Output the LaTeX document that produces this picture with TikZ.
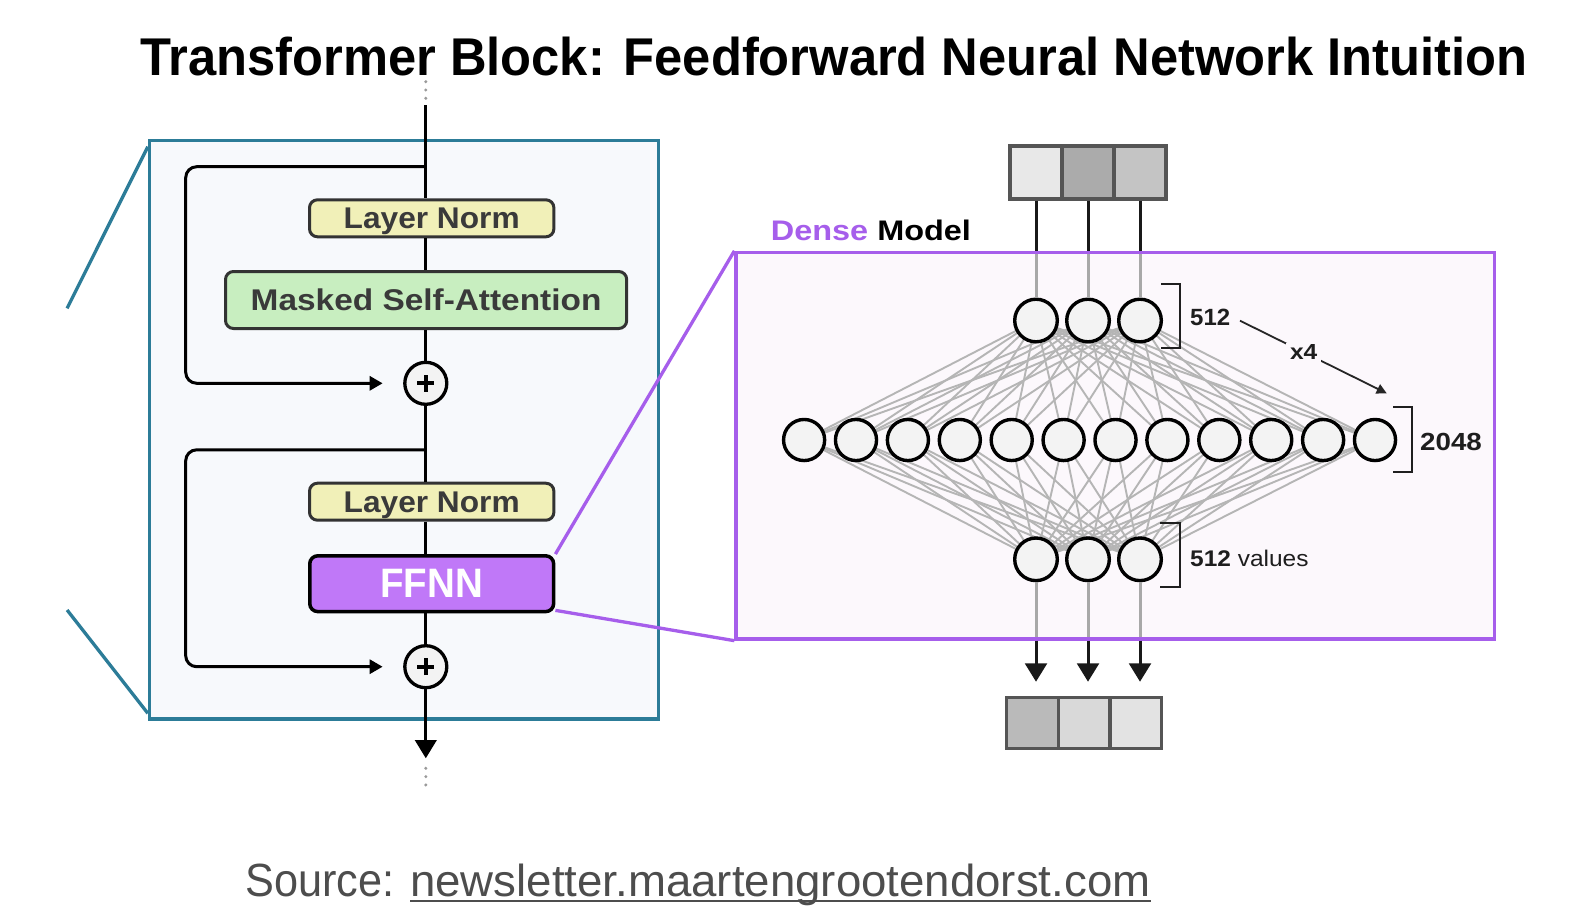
\documentclass[tikz,border=0pt]{standalone}
\usepackage{fontspec}
\setmainfont{Liberation Sans}
\usepackage{graphicx}
\usetikzlibrary{arrows.meta}
\definecolor{bluecol}{HTML}{2C7C98}
\definecolor{bluefill}{HTML}{F7F9FC}
\definecolor{densepurple}{HTML}{A65EEB}
\definecolor{densefill}{HTML}{FCF8FC}
\definecolor{lnyellow}{HTML}{F1F0B8}
\definecolor{msagreen}{HTML}{C8EEC0}
\definecolor{ffnnpurple}{HTML}{C078F8}
\definecolor{boxline}{HTML}{333333}
\definecolor{boxtext}{HTML}{3A3A3A}
\definecolor{neufill}{HTML}{F3F3F3}
\definecolor{edgegray}{HTML}{B5B5B5}
\definecolor{vgraycol}{HTML}{A8A8A8}
\definecolor{cellline}{HTML}{555555}
\definecolor{srcgray}{HTML}{4D4D4D}
\definecolor{dotgray}{HTML}{9A9A9A}
\definecolor{lbltext}{HTML}{1E1E1E}
\pgfdeclarelayer{back}
\pgfdeclarelayer{mid}
\pgfsetlayers{back,mid,main}
\newcommand{\fitbox}[3]{\resizebox{#1}{#2}{#3}}
\tikzset{
  lnbox/.style={draw=boxline, line width=3pt, rounded corners=8pt, fill=lnyellow, minimum width=244.4pt, minimum height=37pt, inner sep=0pt, text depth=0pt, text=boxtext},
  msabox/.style={draw=boxline, line width=3pt, rounded corners=8pt, fill=msagreen, minimum width=401.2pt, minimum height=57pt, inner sep=0pt, text depth=0pt, text=boxtext},
  ffnnbox/.style={draw=black, line width=3.5pt, rounded corners=8pt, fill=ffnnpurple, minimum width=243.9pt, minimum height=55.8pt, inner sep=0pt, text depth=0pt, text=white},
  flow/.style={draw=black, line width=3pt},
  plusnode/.style={circle, draw=black, line width=3.3pt, fill=neufill, minimum size=42pt, inner sep=0pt},
  plusbar/.style={draw=black, line width=4pt},
  neuron/.style={circle, draw=black, line width=3.4pt, fill=neufill, minimum size=#1, inner sep=0pt},
  neuron/.default=42.6pt,
  edge/.style={draw=edgegray, line width=1.9pt},
  vblack/.style={draw=black!90, line width=3pt},
  vgray/.style={draw=vgraycol, line width=3pt},
  cell/.style={draw=cellline, line width=3.3pt, inner sep=0pt, minimum width=52pt, minimum height=53pt},
  ocell/.style={draw=cellline, line width=3.3pt, inner sep=0pt, minimum width=51.6pt, minimum height=50.6pt},
  bracket/.style={draw=black!88, line width=2pt},
  lbl/.style={anchor=base west, inner sep=0pt, text=lbltext},
  pline/.style={draw=densepurple, line width=3.3pt},
  bline/.style={draw=bluecol, line width=3.3pt},
  dots/.style={draw=dotgray, line width=3.3pt, line cap=round, dash pattern=on 0pt off 8.3pt},
  xarr/.style={draw=black!85, line width=1.8pt, -{Triangle[width=10pt,length=10pt]}},
}
\begin{document}
\begin{tikzpicture}[x=1pt,y=-1pt]
\useasboundingbox (0,0) rectangle (1586,922);
\begin{pgfonlayer}{back}
  \fill[white] (0,0) rectangle (1586,922);
  \node[draw=bluecol, line width=3.3pt, fill=bluefill, minimum width=508.7pt, minimum height=578.4pt, inner sep=0pt] (blk) at (403.8,429.85) {};
  \node[draw=densepurple, line width=3.3pt, fill=densefill, minimum width=758.5pt, minimum height=386.5pt, inner sep=0pt] (dense) at (1115.25,445.75) {};
\end{pgfonlayer}

% title and source
\node[anchor=base west, inner sep=0pt] (title) at (140,75) {\fitbox{1387pt}{38.5pt}{\bfseries Transformer Block: Feedforward Neural Network Intuition}};
\node[anchor=base west, inner sep=0pt, text=srcgray] (src) at (245,896.7) {\fitbox{149pt}{32.5pt}{Source:}};
\node[anchor=base west, inner sep=0pt, text=srcgray] (url) at (410,896.7) {\fitbox{740pt}{32.5pt}{newsletter.maartengrootendorst.com}};
\draw[draw=srcgray, line width=2pt] ([yshift=-4.5pt]url.base west) -- ([yshift=-4.5pt]url.base east);

% left block
\node[lnbox] (ln1) at (431.7,218.3) {\fitbox{176pt}{20.6pt}{\bfseries Layer Norm}};
\node[msabox] (msa) at (426.1,300) {\fitbox{350.7pt}{21.7pt}{\bfseries Masked Self-Attention}};
\node[lnbox] (ln2) at (431.7,501.7) {\fitbox{176pt}{20.6pt}{\bfseries Layer Norm}};
\node[ffnnbox] (ffnn) at (431.7,583.7) {\fitbox{102.7pt}{28.3pt}{\bfseries FFNN}};
\node[plusnode] (p1) at (425.8,383.3) {};
\node[plusnode] (p2) at (425.8,666.7) {};
\foreach \p in {p1,p2}{
  \draw[plusbar] ([xshift=-8.5pt]\p.center) -- ([xshift=8.5pt]\p.center);
  \draw[plusbar] ([yshift=-8.5pt]\p.center) -- ([yshift=8.5pt]\p.center);
}
\coordinate (top) at (425.8,105);
\coordinate (endc) at (425.8,758.3);
\coordinate (j1) at (425.8,166.7);
\coordinate (l1) at (185.7,166.7);
\coordinate (j2) at (425.8,449.8);
\coordinate (l2) at (185.7,449.8);
\draw[dots] (425.8,81.7) -- (425.8,100);
\draw[dots] (425.8,768.3) -- (425.8,786);
\draw[flow] (top) -- (top |- ln1.north);
\draw[flow] (ln1.south -| top) -- (msa.north -| top);
\draw[flow] (msa.south -| top) -- (p1.north);
\draw[flow] (p1.south) -- (p1.south |- ln2.north);
\draw[flow] (ln2.south -| top) -- (ffnn.north -| top);
\draw[flow] (ffnn.south -| top) -- (p2.north);
\draw[flow, -{Triangle[width=21.4pt,length=18.3pt]}] (p2.south) -- (endc);
\draw[flow, rounded corners=11pt, -{Triangle[width=14pt,length=13pt]}, shorten >=20.5pt] (j1) -- (l1) |- (p1.west);
\draw[flow, rounded corners=11pt, -{Triangle[width=14pt,length=13pt]}, shorten >=20.5pt] (j2) -- (l2) |- (p2.west);

% zoom lines
\coordinate (bt) at (147.8,146.7);
\coordinate (bte) at (67.1,308.3);
\coordinate (bb) at (147.8,713.3);
\coordinate (bbe) at (67.1,610);
\draw[bline] (bt) -- (bte);
\draw[bline] (bb) -- (bbe);
\draw[pline] (ffnn.north east) -- (dense.north west);
\draw[pline] ([yshift=3pt]ffnn.south east) -- (dense.south west);

% dense model
\node[anchor=base west, inner sep=0pt] (dlabel) at (770.7,240) {\fitbox{200pt}{20.5pt}{\bfseries\textcolor{densepurple}{Dense} Model}};

\node[cell, fill=black!9] (in1) at (1036,172.5) {};
\node[cell, fill=black!33] (in2) at (1088,172.5) {};
\node[cell, fill=black!23] (in3) at (1140,172.5) {};

\node[neuron] (t1) at (1036,320.5) {};
\node[neuron] (t2) at (1088,320.5) {};
\node[neuron] (t3) at (1140,320.5) {};
\node[neuron] (b1) at (1036,559.3) {};
\node[neuron] (b2) at (1088,559.3) {};
\node[neuron] (b3) at (1140,559.3) {};
\foreach \k in {0,...,11}{
  \pgfmathsetmacro\xx{804.1+51.9*\k}
  \node[neuron=41.1pt] (m\k) at (\xx,440) {};
}
\begin{pgfonlayer}{mid}
\foreach \i in {1,2,3}{
  \foreach \k in {0,...,11}{
    \draw[edge] (t\i.center) -- (m\k.center);
    \draw[edge] (m\k.center) -- (b\i.center);
  }
}
\end{pgfonlayer}

\node[ocell, fill=black!27] (out1) at (1032.5,723) {};
\node[ocell, fill=black!15] (out2) at (1084.1,723) {};
\node[ocell, fill=black!11] (out3) at (1135.7,723) {};

\coordinate (a1) at (1036,681.7);
\coordinate (a2) at (1088,681.7);
\coordinate (a3) at (1140,681.7);
\foreach \i in {1,2,3}{
  \draw[vblack] (in\i.south) -- (in\i.south |- dense.north);
  \draw[vgray, shorten <=3.3pt] (in\i.south |- dense.north) -- (t\i.north);
  \draw[vgray, shorten >=3.3pt] (b\i.south) -- (b\i.south |- dense.south);
  \draw[vblack, -{Triangle[width=21.7pt,length=18.3pt]}] (b\i.south |- dense.south) -- (a\i);
}

% brackets and labels
\draw[bracket] (1161,284) -- (1180,284) -- (1180,348.3) -- (1161,348.3);
\draw[bracket] (1393,407.3) -- (1411.7,407.3) -- (1411.7,472.3) -- (1393,472.3);
\draw[bracket] (1160,523.3) -- (1180,523.3) -- (1180,586.7) -- (1160,586.7);
\node[lbl] (l512) at (1190,325.7) {\fitbox{40pt}{16.4pt}{\bfseries 512}};
\node[lbl] (l2048) at (1420,450) {\fitbox{61.7pt}{17.3pt}{\bfseries 2048}};
\node[lbl] (lvals) at (1190,566) {\fitbox{118.3pt}{16.4pt}{\textbf{512} values}};
\coordinate (xa) at (1240,320.7);
\coordinate (xb) at (1386.7,393.3);
\draw[xarr] (xa) -- node[pos=0.434, fill=densefill, inner xsep=4pt, inner ysep=2pt, text depth=0pt, text=lbltext] (x4) {\fitbox{27.3pt}{15pt}{\bfseries x4}} (xb);
\end{tikzpicture}
\end{document}
